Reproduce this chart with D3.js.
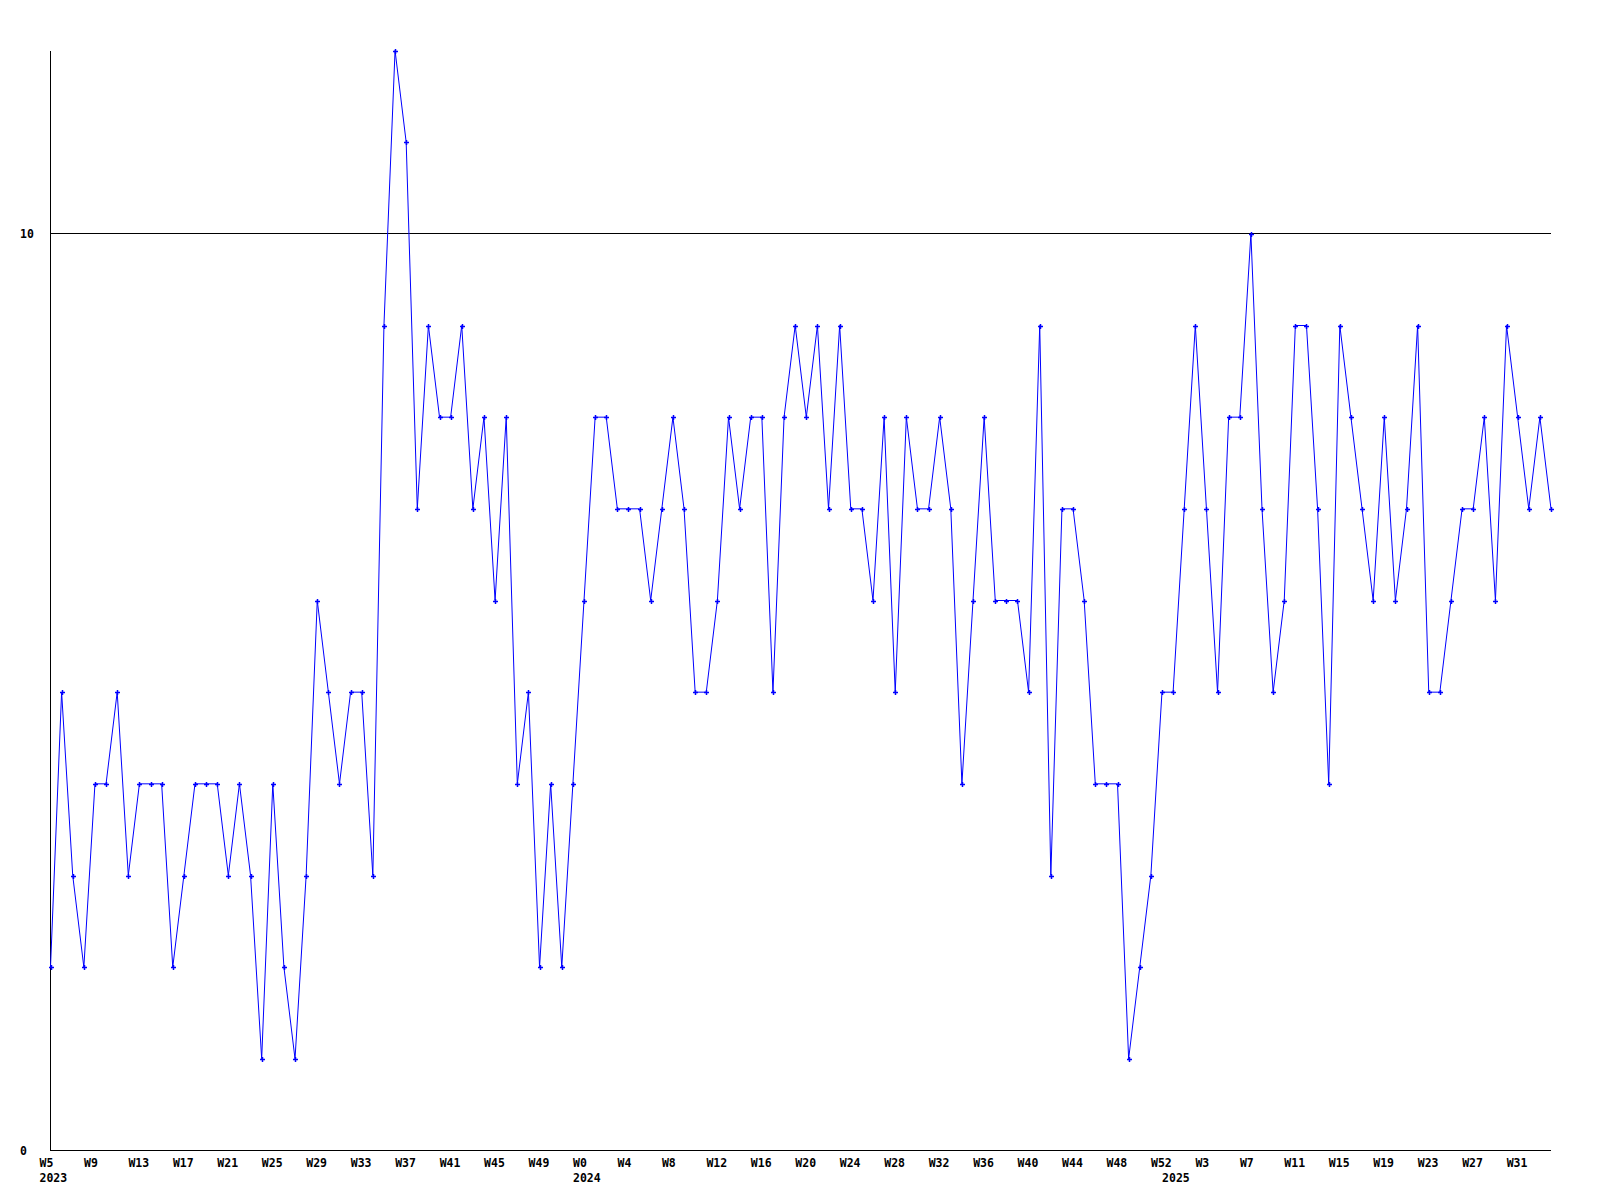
<!DOCTYPE html>
<html>
<head>
<meta charset="utf-8">
<script src="https://cdn.jsdelivr.net/npm/d3@7"></script>
<style>
  html, body { margin: 0; padding: 0; background: #ffffff; }
  svg { display: block; }
  text { font-family: "DejaVu Sans Mono", "Liberation Mono", monospace; font-weight: bold; font-size: 11.5px; fill: #000; }
</style>
</head>
<body>
<svg id="chart" width="1600" height="1200"></svg>
<script>
// ---- data ----
// weeks covered per year: [year, firstWeek, lastWeek]
const yearSpans = [[2023, 5, 52], [2024, 0, 52], [2025, 0, 34]];
const values = [
  2, 5, 3, 2, 4, 4, 5, 3, 4, 4, 4, 2, 3, 4, 4, 4, 3, 4, 3, 1,
  4, 2, 1, 3, 6, 5, 4, 5, 5, 3, 9, 12, 11, 7, 9, 8, 8, 9, 7, 8,
  6, 8, 4, 5, 2, 4, 2, 4, 6, 8, 8, 7, 7, 7, 6, 7, 8, 7, 5, 5,
  6, 8, 7, 8, 8, 5, 8, 9, 8, 9, 7, 9, 7, 7, 6, 8, 5, 8, 7, 7,
  8, 7, 4, 6, 8, 6, 6, 6, 5, 9, 3, 7, 7, 6, 4, 4, 4, 1, 2, 3,
  5, 5, 7, 9, 7, 5, 8, 8, 10, 7, 5, 6, 9, 9, 7, 4, 9, 8, 7, 6,
  8, 6, 7, 9, 5, 5, 6, 7, 7, 8, 6, 9, 8, 7, 8, 7
];
const yTickValues = [0, 10];
const refLineValue = 10;
const yMax = 12;
const tickEvery = 4;

(function () {
  // categories built from the year spans
  const categories = [];
  yearSpans.forEach(([yr, w0, w1]) => {
    for (let w = w0; w <= w1; w++) categories.push({ key: yr + "-W" + w, year: yr, week: w });
  });
  const data = categories.map((c, i) => ({ key: c.key, year: c.year, week: c.week, value: values[i] }));

  // ---- layout ----
  const svg = d3.select("#chart");
  const pLeft = 50.5, pRight = 1551, pTop = 50.5, pBottom = 1150.5;

  const x = d3.scalePoint().domain(data.map(d => d.key)).range([pLeft, pRight]);
  const y = d3.scaleLinear().domain([0, yMax]).range([pBottom, pTop]);

  // axes lines
  svg.append("line").attr("x1", pLeft).attr("x2", pLeft).attr("y1", y(yMax)).attr("y2", y(0))
    .attr("stroke", "#000").attr("stroke-width", 1).attr("shape-rendering", "crispEdges");
  svg.append("line").attr("x1", pLeft).attr("x2", pRight).attr("y1", y(0)).attr("y2", y(0))
    .attr("stroke", "#000").attr("stroke-width", 1).attr("shape-rendering", "crispEdges");
  // reference line
  svg.append("line").attr("x1", pLeft).attr("x2", pRight).attr("y1", y(refLineValue)).attr("y2", y(refLineValue))
    .attr("stroke", "#000").attr("stroke-width", 1).attr("shape-rendering", "crispEdges");

  // y tick labels
  svg.selectAll("text.ylab").data(yTickValues).enter().append("text")
    .attr("class", "ylab")
    .attr("x", 20)
    .attr("y", d => y(d))
    .attr("dy", "0.36em")
    .text(d => d);

  // x tick labels
  const tickData = data.filter((d, i) => i % tickEvery === 0);
  svg.selectAll("text.xlab").data(tickData).enter().append("text")
    .attr("class", "xlab")
    .attr("x", d => x(d.key) - 11)
    .attr("y", 1166.5)
    .text(d => "W" + d.week);

  // year labels at first point of each year
  const yearStarts = data.filter((d, i) => i === 0 || data[i - 1].year !== d.year);
  svg.selectAll("text.yearlab").data(yearStarts).enter().append("text")
    .attr("class", "yearlab")
    .attr("x", d => x(d.key) - 11)
    .attr("y", 1181.5)
    .text(d => d.year);

  // line
  const line = d3.line().x(d => x(d.key)).y(d => y(d.value));
  svg.append("path").datum(data)
    .attr("d", line)
    .attr("fill", "none")
    .attr("stroke", "#0000ff")
    .attr("stroke-width", 1);

  // markers
  svg.selectAll("path.mk").data(data).enter().append("path")
    .attr("class", "mk")
    .attr("d", d => {
      const cx = Math.round(x(d.key)) + 0.5, cy = Math.round(y(d.value)) + 0.5;
      return `M${cx - 2.5},${cy}H${cx + 2.5}M${cx},${cy - 2.5}V${cy + 2.5}`;
    })
    .attr("stroke", "#0000ff")
    .attr("stroke-width", 1.5)
    .attr("fill", "none");
})();
</script>
</body>
</html>
